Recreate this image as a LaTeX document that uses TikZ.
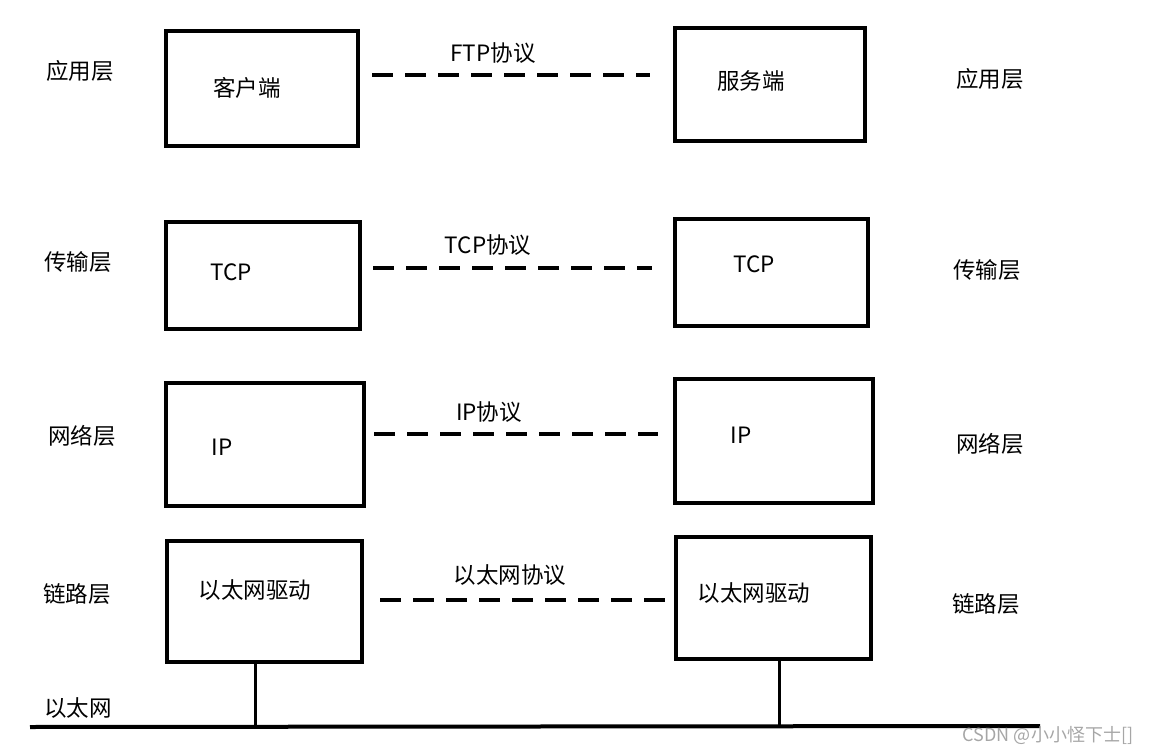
\documentclass[tikz,border=0pt]{standalone}
\usepackage{fontspec}
\setmainfont{Noto Sans CJK SC}
\begin{document}
\begin{tikzpicture}[x=1pt,y=-1pt,
  box/.style={draw,line width=4.2pt},
  proto/.style={line width=4pt,dash pattern=on 21pt off 12pt},
  txt/.style={font=\fontsize{22.5}{24}\selectfont,inner sep=0pt},
  wire/.style={line width=4pt}]
\useasboundingbox (0,0) rectangle (1154,754);
% boxes
\draw[box] (166,31) rectangle (358,146);
\draw[box] (675,28) rectangle (865,141);
\draw[box] (166,222) rectangle (360,329);
\draw[box] (675,219) rectangle (868,326);
\draw[box] (166,383) rectangle (364,506);
\draw[box] (675,379) rectangle (873,503);
\draw[box] (167,541) rectangle (362,662);
\draw[box] (676,537) rectangle (871,659);
% box texts
\node[txt] (c1) at (247,88) {客户端};
\node[txt] (s1) at (751,81) {服务端};
\node[txt] (c2) at (231,272) {TCP};
\node[txt] (s2) at (754,264) {TCP};
\node[txt] (c3) at (222,447) {IP};
\node[txt] (s3) at (741,435) {IP};
\node[txt] (c4) at (255,590) {以太网驱动};
\node[txt] (s4) at (754,593) {以太网驱动};
% dashed protocol lines
\coordinate (p1a) at (372,75); \coordinate (p1b) at (650,75);
\coordinate (p2a) at (373,268); \coordinate (p2b) at (652,268);
\coordinate (p3a) at (374,434); \coordinate (p3b) at (658,434);
\coordinate (p4a) at (380,600); \coordinate (p4b) at (666,600);
\draw[proto] (p1a) -- (p1b);
\draw[proto] (p2a) -- (p2b);
\draw[proto] (p3a) -- (p3b);
\draw[proto] (p4a) -- (p4b);
\node[txt] (l1) at (493,53) {FTP协议};
\node[txt] (l2) at (488,245) {TCP协议};
\node[txt] (l3) at (489,412) {IP协议};
\node[txt] (l4) at (510,575) {以太网协议};
% layer labels
\node[txt] (L1) at (80,71) {应用层};
\node[txt] (L2) at (78,262) {传输层};
\node[txt] (L3) at (82,436) {网络层};
\node[txt] (L4) at (77,594) {链路层};
\node[txt] (R1) at (990,79) {应用层};
\node[txt] (R2) at (987,270) {传输层};
\node[txt] (R3) at (990,444) {网络层};
\node[txt] (R4) at (986,604) {链路层};
\node[txt] (eth) at (78,708) {以太网};
% ethernet bus
\coordinate (b1) at (30,727); \coordinate (b2) at (1040,726);
\coordinate (t1) at (255,662); \coordinate (j1) at (255,727);
\coordinate (t2) at (779,659); \coordinate (j2) at (779,728);
\draw[wire] (b1) -- (b2);
\draw[line width=3pt] (t1) -- (j1);
\draw[line width=3pt] (t2) -- (j2);
\node[font=\fontsize{18}{19}\selectfont,text=black!35,inner sep=0pt] (wm) at (1048,735) {CSDN @小小怪下士[]};
\end{tikzpicture}
\end{document}
